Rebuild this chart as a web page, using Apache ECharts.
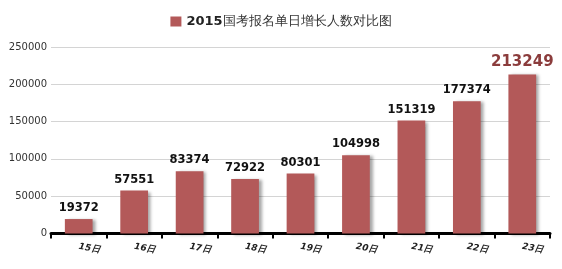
<!DOCTYPE html>
<html><head><meta charset="utf-8">
<script src="https://cdn.jsdelivr.net/npm/echarts@6/dist/echarts.min.js"></script>
<style>html,body{margin:0;padding:0;background:#fff}#c{width:562px;height:269px}</style>
</head><body><div id="c"></div>
<script>
var categories = ['15日','16日','17日','18日','19日','20日','21日','22日','23日'];
var values = [19372, 57551, 83374, 72922, 80301, 104998, 151319, 177374, 213249];
var seriesName = '2015国考报名单日增长人数对比图';

var chart = echarts.init(document.getElementById('c'));
var data = values.map(function(v, i){
  if (i === values.length - 1) {
    return {value: v, label: {fontSize: 15, color: '#8b3c3c', distance: 5}};
  }
  return v;
});
chart.setOption({
  animation: false,
  backgroundColor: '#fff',
  legend: {
    top: 10, left: 'center',
    itemWidth: 11, itemHeight: 10, itemGap: 8,
    icon: 'rect',
    data: [seriesName],
    formatter: function(n){ return '{b|2015}' + n.slice(4); },
    textStyle: {
      fontFamily: 'DejaVu Sans', fontSize: 13, color: '#333',
      rich: { b: {fontFamily: 'DejaVu Sans', fontWeight: 'bold', fontSize: 13, color: '#222'} }
    }
  },
  grid: {left: 51, right: 12, top: 47, bottom: 35.5},
  xAxis: {
    type: 'category', data: categories,
    axisLine: {lineStyle: {color: '#000', width: 3}},
    axisTick: {show: true, length: 5, lineStyle: {color: '#000', width: 2}},
    axisLabel: {rotate: -10, margin: 13, fontFamily: 'DejaVu Sans', fontSize: 9, fontStyle: 'italic', fontWeight: 'bold', color: '#222'}
  },
  yAxis: {
    type: 'value', min: 0, max: 250000, interval: 50000,
    axisLine: {show: false}, axisTick: {show: false},
    splitLine: {lineStyle: {color: '#d4d4d4', width: 1}},
    axisLabel: {fontFamily: 'DejaVu Sans', fontSize: 10, color: '#333', margin: 4, formatter: function(v){ return String(v); }}
  },
  series: [{
    name: seriesName, type: 'bar', data: data, barWidth: '50%',
    itemStyle: {color: '#b35959', shadowColor: 'rgba(0,0,0,0.35)', shadowBlur: 3, shadowOffsetX: 3, shadowOffsetY: 1},
    label: {show: true, position: 'top', distance: 5, fontFamily: 'DejaVu Sans', fontWeight: 'bold', fontSize: 11.5, color: '#111'}
  }]
});
</script></body></html>
